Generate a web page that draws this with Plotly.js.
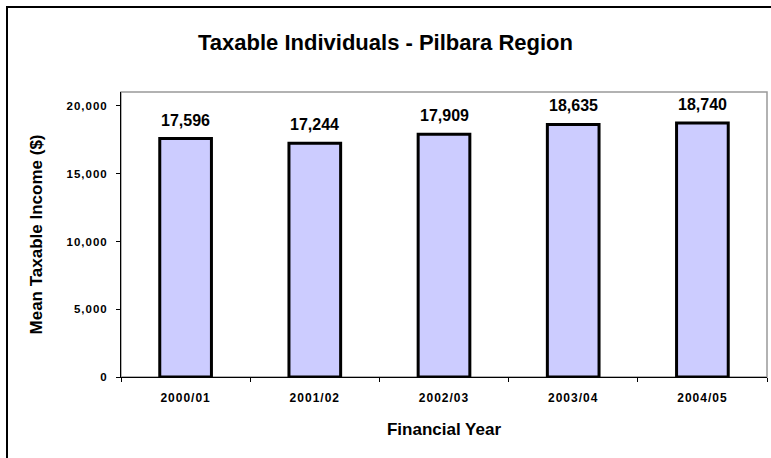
<!DOCTYPE html>
<html>
<head>
<meta charset="utf-8">
<script src="https://cdn.plot.ly/plotly-3.0.1.min.js"></script>
<style>
html,body{margin:0;padding:0;background:#fff;}
#chart{width:771px;height:458px;}
.xtick text,.ytick text{letter-spacing:1px;}
</style>
</head>
<body>
<div id="chart"></div>
<script>
const years = ["2000/01", "2001/02", "2002/03", "2003/04", "2004/05"];
const meanIncome = [17596, 17244, 17909, 18635, 18740];
const yTickVals = [0, 5000, 10000, 15000, 20000];
const yTickText = ["0", "5,000", "10,000", "15,000", "20,000"];

const fmt = v => v.toLocaleString("en-US");
const font = "Arial, 'Liberation Sans', sans-serif";

const trace = {
  type: "bar",
  x: years,
  y: meanIncome,
  width: 0.4,
  marker: {color: "#CCCCFF", line: {color: "#000000", width: 3}},
  hoverinfo: "none"
};

const annotations = years.map((c, i) => ({
  x: c, y: meanIncome[i], xref: "x", yref: "y",
  text: "<b>" + fmt(meanIncome[i]) + "</b>",
  showarrow: false, yanchor: "bottom", yshift: 8,
  font: {family: font, size: 16, color: "#000"}
}));

const L = 121, R = 4, T = 92, B = 81, W = 771, H = 458;
const pw = W - L - R, ph = H - T - B;

const layout = {
  width: W, height: H,
  margin: {l: L, r: R, t: T, b: B, pad: 0},
  paper_bgcolor: "#fff", plot_bgcolor: "#fff",
  showlegend: false,
  title: {
    text: "<b>Taxable Individuals - Pilbara Region</b>",
    x: 0.5, xref: "container", xanchor: "center",
    y: 1 - 42 / H, yref: "container", yanchor: "middle",
    font: {family: font, size: 22, color: "#000"}
  },
  xaxis: {
    type: "category",
    range: [-0.5, 4.5],
    showline: true, linecolor: "#000", linewidth: 1,
    ticks: "outside", tickson: "boundaries", ticklen: 4, tickcolor: "#000",
    ticklabelstandoff: 10,
    tickfont: {family: font, size: 12, color: "#000", weight: "bold"},
    showgrid: false, zeroline: false,
    title: {text: "<b>Financial Year</b>", standoff: 18, font: {family: font, size: 17, color: "#000"}}
  },
  yaxis: {
    range: [0, 21030],
    tickvals: yTickVals, ticktext: yTickText,
    showline: true, linecolor: "#000", linewidth: 1,
    ticks: "outside", ticklen: 4, tickcolor: "#000",
    ticklabelstandoff: 6,
    tickfont: {family: font, size: 11.5, color: "#000", weight: "bold"},
    showgrid: false, zeroline: false,
    title: {text: "<b>Mean Taxable Income ($)</b>", standoff: 19, font: {family: font, size: 17, color: "#000"}}
  },
  annotations: annotations,
  shapes: [
    {type: "rect", xref: "paper", yref: "paper", x0: 0, x1: 1, y0: 0, y1: 1,
     line: {color: "#999999", width: 1.5}, layer: "below"},
    {type: "rect", xref: "paper", yref: "paper",
     x0: (7 - L) / pw, x1: (W + 6 - L) / pw,
     y0: (T + ph - (H + 6)) / ph, y1: (T + ph - 7) / ph,
     line: {color: "#000", width: 2}}
  ]
};

Plotly.newPlot("chart", [trace], layout, {displayModeBar: false, staticPlot: true});
</script>
</body>
</html>
